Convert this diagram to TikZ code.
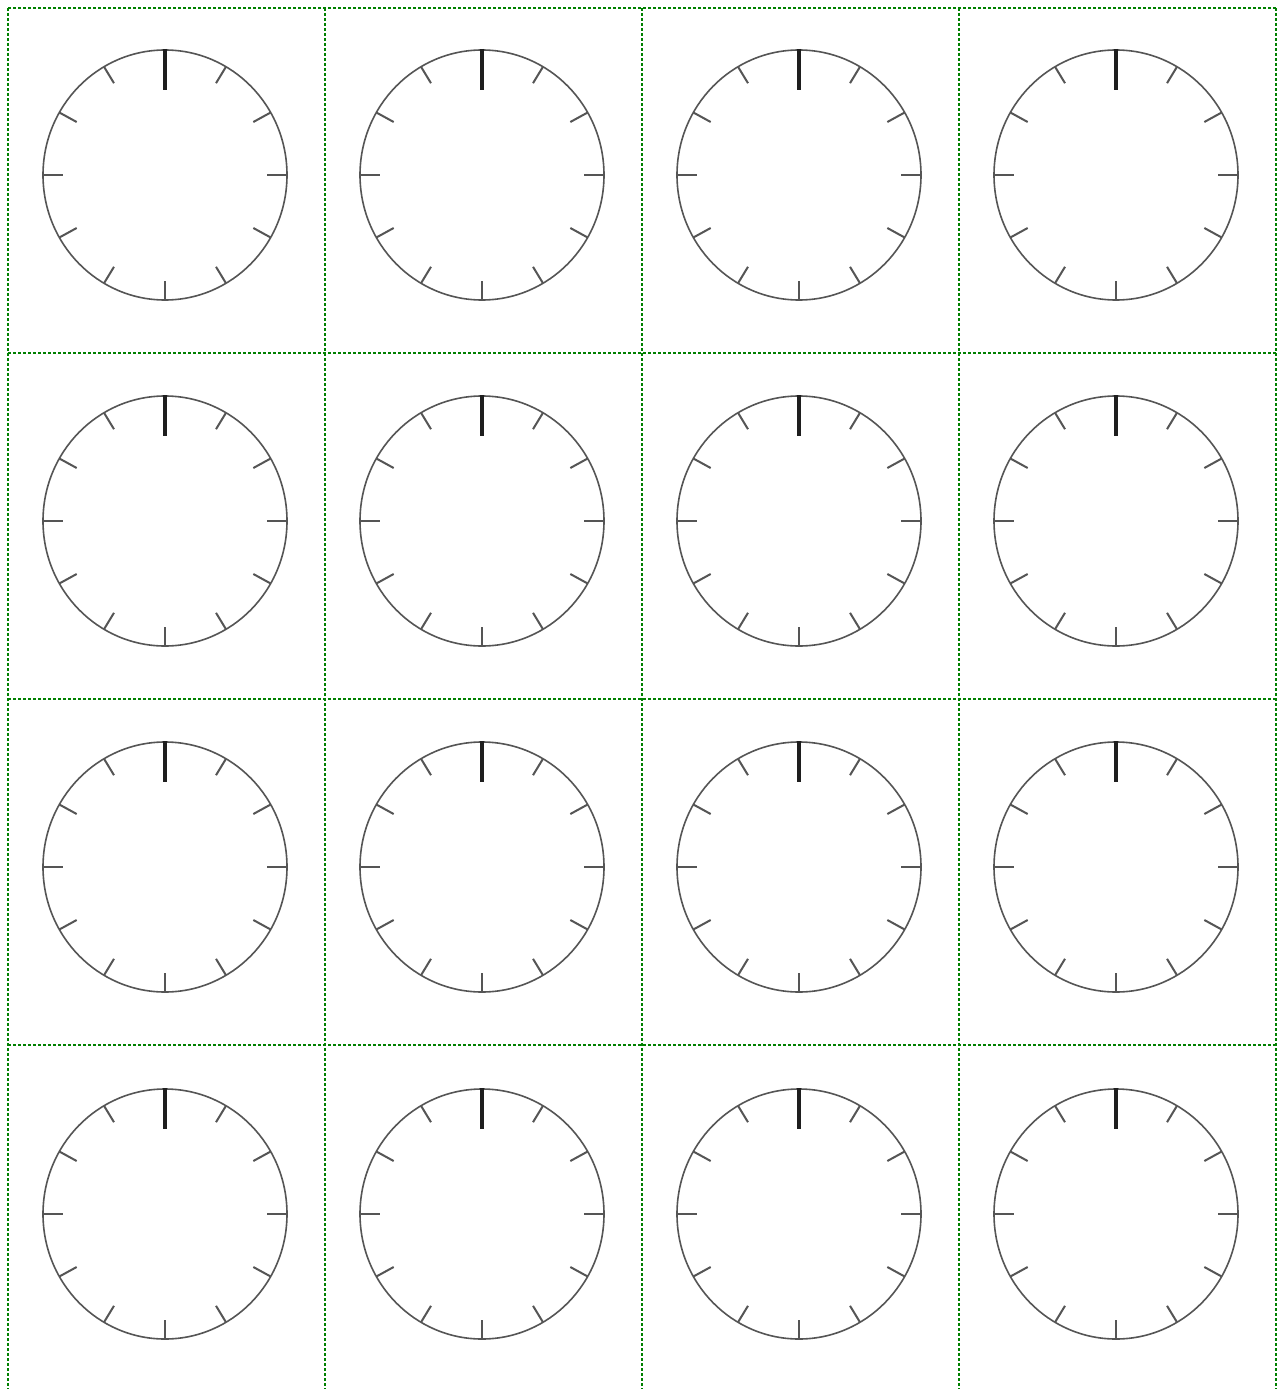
\documentclass[tikz,border=0pt]{standalone}
\begin{document}
\begin{tikzpicture}[x=1pt,y=-1pt,
  gridline/.style={draw={rgb,255:red,0;green,128;blue,0},line width=2pt,dash pattern=on 3pt off 2pt},
  face/.style={draw={rgb,255:red,85;green,85;blue,85},line width=1.6pt},
  hourtick/.style={draw={rgb,255:red,85;green,85;blue,85},line width=2pt},
  noontick/.style={draw={rgb,255:red,30;green,30;blue,30},line width=3.6pt}]
\useasboundingbox[fill=white] (0,0) rectangle (1278,1389);
% grid
\foreach \gx in {8,325,642,959,1276} \draw[gridline] (\gx,8) -- (\gx,1389);
\foreach \gy in {8,353,699,1045} \draw[gridline] (8,\gy) -- (1276,\gy);
% clocks
\foreach \col/\cx in {0/165,1/482,2/799,3/1116}{
  \foreach \row/\cy in {0/175,1/521,2/867,3/1214}{
    \begin{scope}[shift={(\cx,\cy)}]
      \coordinate (c\col\row) at (0,0);
      \draw[face] (c\col\row) ellipse[x radius=122,y radius=125];
      \foreach \a in {0,30,...,240,300,330}
        \draw[hourtick] (\a:122 and 125) -- (\a:102 and 106);
      \draw[noontick] (0,-126) -- (0,-85);
    \end{scope}
  }
}
\end{tikzpicture}
\end{document}
